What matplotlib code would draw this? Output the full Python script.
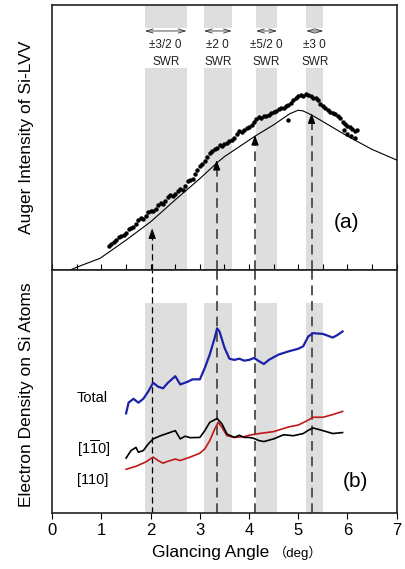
import matplotlib
matplotlib.use("Agg")
import matplotlib.pyplot as plt
import numpy as np

plt.rcParams['font.family'] = ['Liberation Sans', 'Noto Sans CJK JP', 'DejaVu Sans']
plt.rcParams['mathtext.default'] = 'regular'
plt.rcParams['hatch.linewidth'] = 0.6
plt.rcParams['hatch.color'] = '#c4c4c4'

# ---------------- data ----------------
# panel (a): measured Auger intensity (dots)
exp_x = [1.15, 1.20, 1.25, 1.30, 1.35, 1.40, 1.45, 1.50, 1.55, 1.60, 1.65, 1.70, 1.75, 1.80,
         1.85, 1.90, 1.95, 2.00, 2.05, 2.10, 2.15, 2.20, 2.25, 2.30, 2.35, 2.40, 2.45, 2.50,
         2.55, 2.60, 2.65, 2.70, 2.75, 2.80, 2.85, 2.90, 2.95, 3.00, 3.05, 3.10, 3.15, 3.20,
         3.25, 3.30, 3.35, 3.40, 3.45, 3.50, 3.55, 3.60, 3.65, 3.70, 3.75, 3.80, 3.85, 3.90,
         3.95, 4.00, 4.05, 4.10, 4.15, 4.20, 4.25, 4.30, 4.35, 4.40, 4.45, 4.50, 4.55, 4.60,
         4.65, 4.70, 4.75, 4.80, 4.85, 4.90, 4.95, 5.00, 5.05, 5.10, 5.15, 5.20, 5.25, 5.30,
         5.35, 5.40, 5.45, 5.50, 5.55, 5.60, 5.65, 5.70, 5.75, 5.80, 5.85, 5.90, 5.95, 6.00,
         6.05, 6.10, 6.15, 6.20, 4.80, 5.92, 6.00, 6.08, 6.15]
exp_y = [0.090, 0.098, 0.104, 0.112, 0.125, 0.128, 0.133, 0.140, 0.155, 0.160, 0.162, 0.175,
         0.188, 0.195, 0.192, 0.205, 0.218, 0.224, 0.222, 0.232, 0.245, 0.252, 0.250, 0.262,
         0.275, 0.282, 0.278, 0.288, 0.298, 0.305, 0.302, 0.318, 0.335, 0.338, 0.345, 0.362,
         0.378, 0.392, 0.400, 0.412, 0.428, 0.440, 0.448, 0.455, 0.462, 0.470, 0.468, 0.475,
         0.480, 0.486, 0.492, 0.500, 0.512, 0.525, 0.520, 0.530, 0.536, 0.541, 0.548, 0.560,
         0.570, 0.578, 0.575, 0.582, 0.580, 0.586, 0.592, 0.596, 0.600, 0.608, 0.612, 0.610,
         0.618, 0.624, 0.630, 0.640, 0.648, 0.658, 0.662, 0.655, 0.665, 0.660, 0.655, 0.650,
         0.648, 0.640, 0.628, 0.620, 0.612, 0.605, 0.598, 0.592, 0.588, 0.582, 0.575, 0.560,
         0.552, 0.545, 0.540, 0.532, 0.525, 0.530, 0.566, 0.530, 0.515, 0.505, 0.500]

# panel (a): calculated curve
calc_x = [0.36, 0.60, 0.97, 1.21, 1.50, 2.00, 2.50, 3.00, 3.35, 3.50, 4.00, 4.12, 4.50,
          4.83, 5.00, 5.10, 5.27, 5.50, 6.00, 6.50, 7.00]
calc_y = [0.000, 0.018, 0.044, 0.075, 0.113, 0.182, 0.265, 0.345, 0.405, 0.428, 0.490,
          0.505, 0.548, 0.590, 0.603, 0.600, 0.585, 0.560, 0.505, 0.455, 0.415]

# standing-wave-resonance bands and labels
band_lo = [1.88, 3.08, 4.14, 5.16]
band_hi = [2.73, 3.65, 4.57, 5.51]
band_lbl = ['±3/2 0', '±2 0', '±5/2 0', '±3 0']

# arrow positions (glancing angle) and arrow tip heights in panel (a)
arrow_x = [2.03, 3.34, 4.12, 5.27]
arrow_tip = [0.157, 0.415, 0.509, 0.591]

# panel (b): electron densities
tot_x = [1.50, 1.55, 1.65, 1.75, 1.85, 1.95, 2.05, 2.15, 2.25, 2.35, 2.50, 2.60, 2.75, 2.85,
         3.00, 3.10, 3.20, 3.30, 3.35, 3.40, 3.50, 3.60, 3.70, 3.80, 3.90, 4.00, 4.10, 4.20,
         4.30, 4.40, 4.60, 4.80, 5.00, 5.10, 5.20, 5.30, 5.50, 5.70, 5.80, 5.90]
tot_y = [0.410, 0.454, 0.470, 0.454, 0.470, 0.500, 0.536, 0.520, 0.513, 0.536, 0.563, 0.529,
         0.540, 0.550, 0.550, 0.597, 0.652, 0.720, 0.760, 0.746, 0.680, 0.635, 0.630, 0.635,
         0.627, 0.630, 0.638, 0.625, 0.613, 0.630, 0.652, 0.665, 0.676, 0.686, 0.726, 0.740,
         0.737, 0.722, 0.733, 0.747]

m1_x = [1.50, 1.60, 1.70, 1.75, 1.85, 1.95, 2.05, 2.20, 2.30, 2.50, 2.60, 2.70, 2.80, 3.00,
        3.10, 3.20, 3.35, 3.45, 3.55, 3.70, 3.80, 3.90, 4.00, 4.10, 4.20, 4.30, 4.50, 4.70,
        4.90, 5.10, 5.20, 5.30, 5.50, 5.70, 5.90]
m1_y = [0.226, 0.257, 0.270, 0.250, 0.257, 0.284, 0.305, 0.318, 0.325, 0.339, 0.305, 0.316,
        0.310, 0.311, 0.339, 0.373, 0.389, 0.366, 0.325, 0.311, 0.320, 0.311, 0.311, 0.307,
        0.298, 0.294, 0.305, 0.322, 0.318, 0.327, 0.340, 0.350, 0.339, 0.327, 0.331]

m2_x = [1.50, 1.70, 1.90, 2.05, 2.15, 2.25, 2.35, 2.50, 2.60, 2.80, 3.00, 3.10, 3.20, 3.30,
        3.37, 3.45, 3.55, 3.70, 3.90, 4.00, 4.20, 4.50, 4.80, 5.00, 5.20, 5.30, 5.50, 5.70,
        5.90]
m2_y = [0.180, 0.192, 0.210, 0.230, 0.216, 0.205, 0.213, 0.222, 0.216, 0.230, 0.246, 0.264,
        0.298, 0.345, 0.373, 0.352, 0.318, 0.311, 0.314, 0.320, 0.327, 0.335, 0.354, 0.362,
        0.382, 0.394, 0.394, 0.405, 0.418]

xticks = [0, 1, 2, 3, 4, 5, 6, 7]

# ---------------- figure ----------------
W, H = 406, 569
fig = plt.figure(figsize=(W / 100, H / 100), dpi=100)
axL, axR = 52.3, 396.7
topA, midY, botB = 5, 270, 513
axa = fig.add_axes([axL / W, (H - midY) / H, (axR - axL) / W, (midY - topA) / H])
axb = fig.add_axes([axL / W, (H - botB) / H, (axR - axL) / W, (botB - midY) / H])

band_fc = '#dedede'
for ax in (axa, axb):
    ax.set_xlim(0, 7)
    ax.set_ylim(0, 1)
    ax.set_yticks([])
    for s in ax.spines.values():
        s.set_linewidth(1.2)
        s.set_color('#222222')


def band(ax, lo, hi, y0, y1):
    ax.axvspan(lo, hi, ymin=y0, ymax=y1, facecolor=band_fc, hatch='||||||',
               edgecolor='none', lw=0, zorder=0)


# ---- panel a ----
for lo, hi, lbl in zip(band_lo, band_hi, band_lbl):
    band(axa, lo, hi, 0, 0.762)
    band(axa, lo, hi, 0.913, 1.0)
    axa.annotate('', xy=(hi, 0.902), xytext=(lo, 0.902),
                 arrowprops=dict(arrowstyle='<->,head_length=0.5,head_width=0.15',
                                 lw=0.6, color='#333333', shrinkA=0, shrinkB=0))
    c = (lo + hi) / 2
    axa.text(c, 0.849, lbl, ha='center', va='center', fontsize=8.5, color='#222222')
    axa.text(c, 0.785, 'SWR', ha='center', va='center', fontsize=8.5, color='#222222')

axa.plot(calc_x, calc_y, color='black', lw=0.8, zorder=3)
axa.plot(exp_x, exp_y, 'o', color='black', ms=3.2, mew=0, zorder=4)

for i, (x, tip) in enumerate(zip(arrow_x, arrow_tip)):
    col = 'black' if i == 0 else '#555555'
    lw = 0.9 if i == 0 else 1.4
    axa.plot([x, x], [0, tip - 0.03], ls=(0, (5, 3)), color=col, lw=lw, zorder=2)
    axa.annotate('', xy=(x, tip), xytext=(x, tip - 0.035),
                 arrowprops=dict(arrowstyle='-|>,head_length=0.6,head_width=0.22',
                                 color='black', lw=0.8, shrinkA=0, shrinkB=0), zorder=5)
    axb.plot([x, x], [0, 1], ls=(0, (5, 3)), color=col, lw=lw, zorder=2)

axa.text(5.73, 0.181, '(a)', fontsize=15, va='center', ha='left')
axa.set_xticks(np.arange(0, 7.01, 0.5))
axa.tick_params(axis='x', direction='in', length=4, width=0.8, labelbottom=False)

# ---- panel b ----
for lo, hi in zip(band_lo, band_hi):
    band(axb, lo, hi, 0, 0.863)

axb.plot(tot_x, tot_y, color='#1c22a8', lw=1.6, zorder=4)
axb.plot(m2_x, m2_y, color='#c01818', lw=1.2, zorder=4)
axb.plot(m1_x, m1_y, color='black', lw=1.2, zorder=5)

axb.text(0.50, 0.473, 'Total', fontsize=10.5, va='center', ha='left')
axb.text(0.50, 0.266, r'[1$\overline{1}$0]', fontsize=10.5, va='center', ha='left')
axb.text(0.50, 0.136, '[110]', fontsize=10.5, va='center', ha='left')
axb.text(5.91, 0.129, '(b)', fontsize=15, va='center', ha='left')

axb.set_xticks(xticks)
axb.set_xticklabels([str(t) for t in xticks])
axb.tick_params(axis='x', direction='out', length=4, width=0.8, labelsize=12, pad=3)

# ---- axis titles ----
fig.text(27 / W, (H - 137) / H, 'Auger Intensity of Si-LVV', rotation=90,
         ha='center', va='center', fontsize=12.5)
fig.text(27 / W, (H - 395) / H, 'Electron Density on Si Atoms', rotation=90,
         ha='center', va='center', fontsize=12.5)
fig.text(152 / W, (H - 553) / H, 'Glancing Angle', ha='left', va='center', fontsize=12.5)
fig.text(274 / W, (H - 553) / H, '（deg）', ha='left', va='center', fontsize=9.5)

fig.savefig('out.png', dpi=100)
